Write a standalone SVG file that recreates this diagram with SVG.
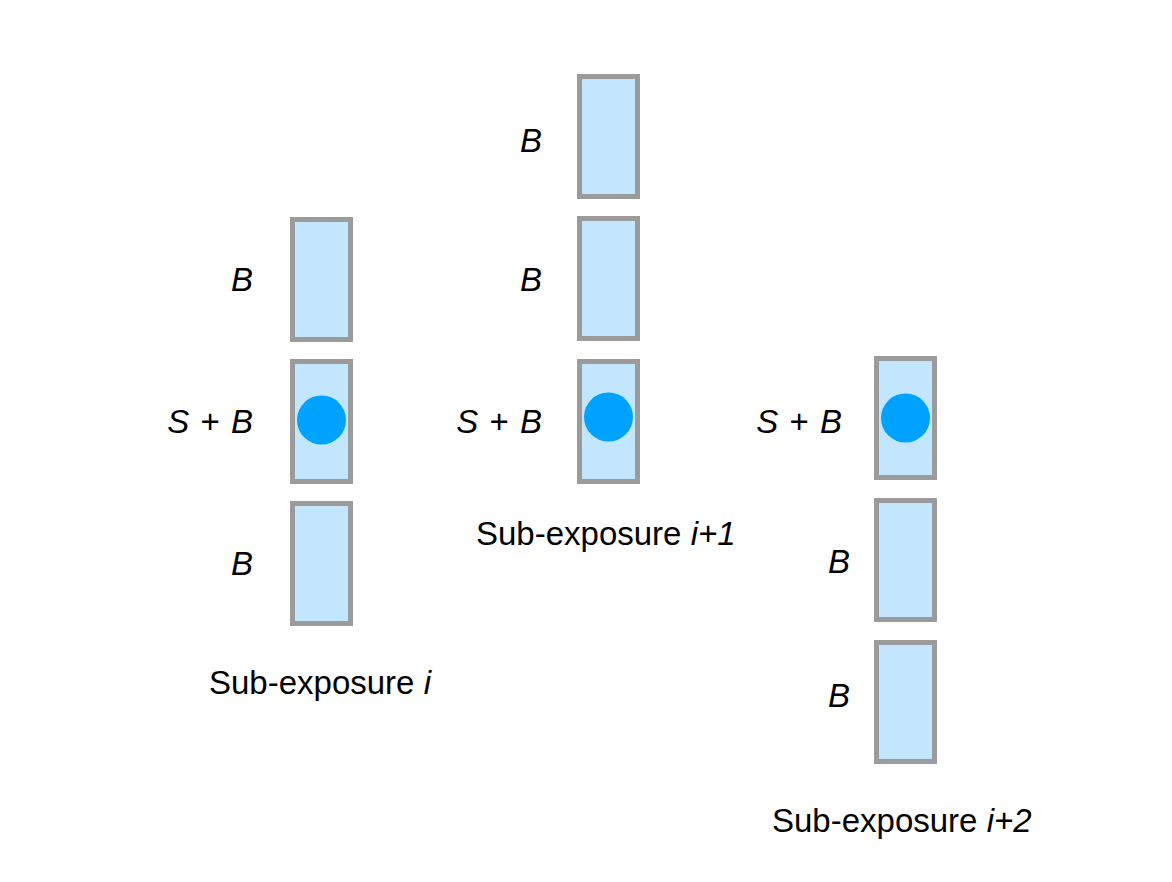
<svg xmlns="http://www.w3.org/2000/svg" width="1172" height="882" viewBox="0 0 1172 882">
<style>
.box{fill:#c2e6fd;stroke:#9b9b9b;stroke-width:5}
.dot{fill:#00a2ff}
.lbl{font-family:"Liberation Sans",Arial,sans-serif;font-size:33px;fill:#000}
.sb{word-spacing:2px}
.it{font-style:italic}
</style>
<rect width="1172" height="882" fill="#fff"/>
<g id="col1">
<g id="c1b1"><rect class="box" x="292.5" y="219.5" width="58" height="120"/><text class="lbl it" x="253" y="291" text-anchor="end">B</text></g>
<g id="c1b2"><rect class="box" x="292.5" y="361.5" width="58" height="120"/><circle class="dot" cx="321.5" cy="420" r="24.5"/><text class="lbl sb" x="253" y="433" text-anchor="end"><tspan class="it">S</tspan> + <tspan class="it">B</tspan></text></g>
<g id="c1b3"><rect class="box" x="292.5" y="503.5" width="58" height="120"/><text class="lbl it" x="253" y="575" text-anchor="end">B</text></g>
<text class="lbl" x="209" y="694">Sub-exposure <tspan class="it">i</tspan></text>
</g>
<g id="col2">
<g id="c2b1"><rect class="box" x="579.5" y="76.5" width="58" height="120"/><text class="lbl it" x="542" y="152" text-anchor="end">B</text></g>
<g id="c2b2"><rect class="box" x="579.5" y="218.5" width="58" height="120"/><text class="lbl it" x="542" y="291" text-anchor="end">B</text></g>
<g id="c2b3"><rect class="box" x="579.5" y="361.5" width="58" height="120"/><circle class="dot" cx="608.5" cy="417" r="24.5"/><text class="lbl sb" x="542" y="433" text-anchor="end"><tspan class="it">S</tspan> + <tspan class="it">B</tspan></text></g>
<text class="lbl" x="476" y="545">Sub-exposure <tspan class="it">i+1</tspan></text>
</g>
<g id="col3">
<g id="c3b1"><rect class="box" x="876.5" y="358.5" width="58" height="119"/><circle class="dot" cx="905.5" cy="418" r="24.5"/><text class="lbl sb" x="842" y="433" text-anchor="end"><tspan class="it">S</tspan> + <tspan class="it">B</tspan></text></g>
<g id="c3b2"><rect class="box" x="876.5" y="500.5" width="58" height="119"/><text class="lbl it" x="850" y="573" text-anchor="end">B</text></g>
<g id="c3b3"><rect class="box" x="876.5" y="642.5" width="58" height="119"/><text class="lbl it" x="850" y="707" text-anchor="end">B</text></g>
<text class="lbl" x="772" y="832">Sub-exposure <tspan class="it">i+2</tspan></text>
</g>
<g id="connectors"/>
</svg>
